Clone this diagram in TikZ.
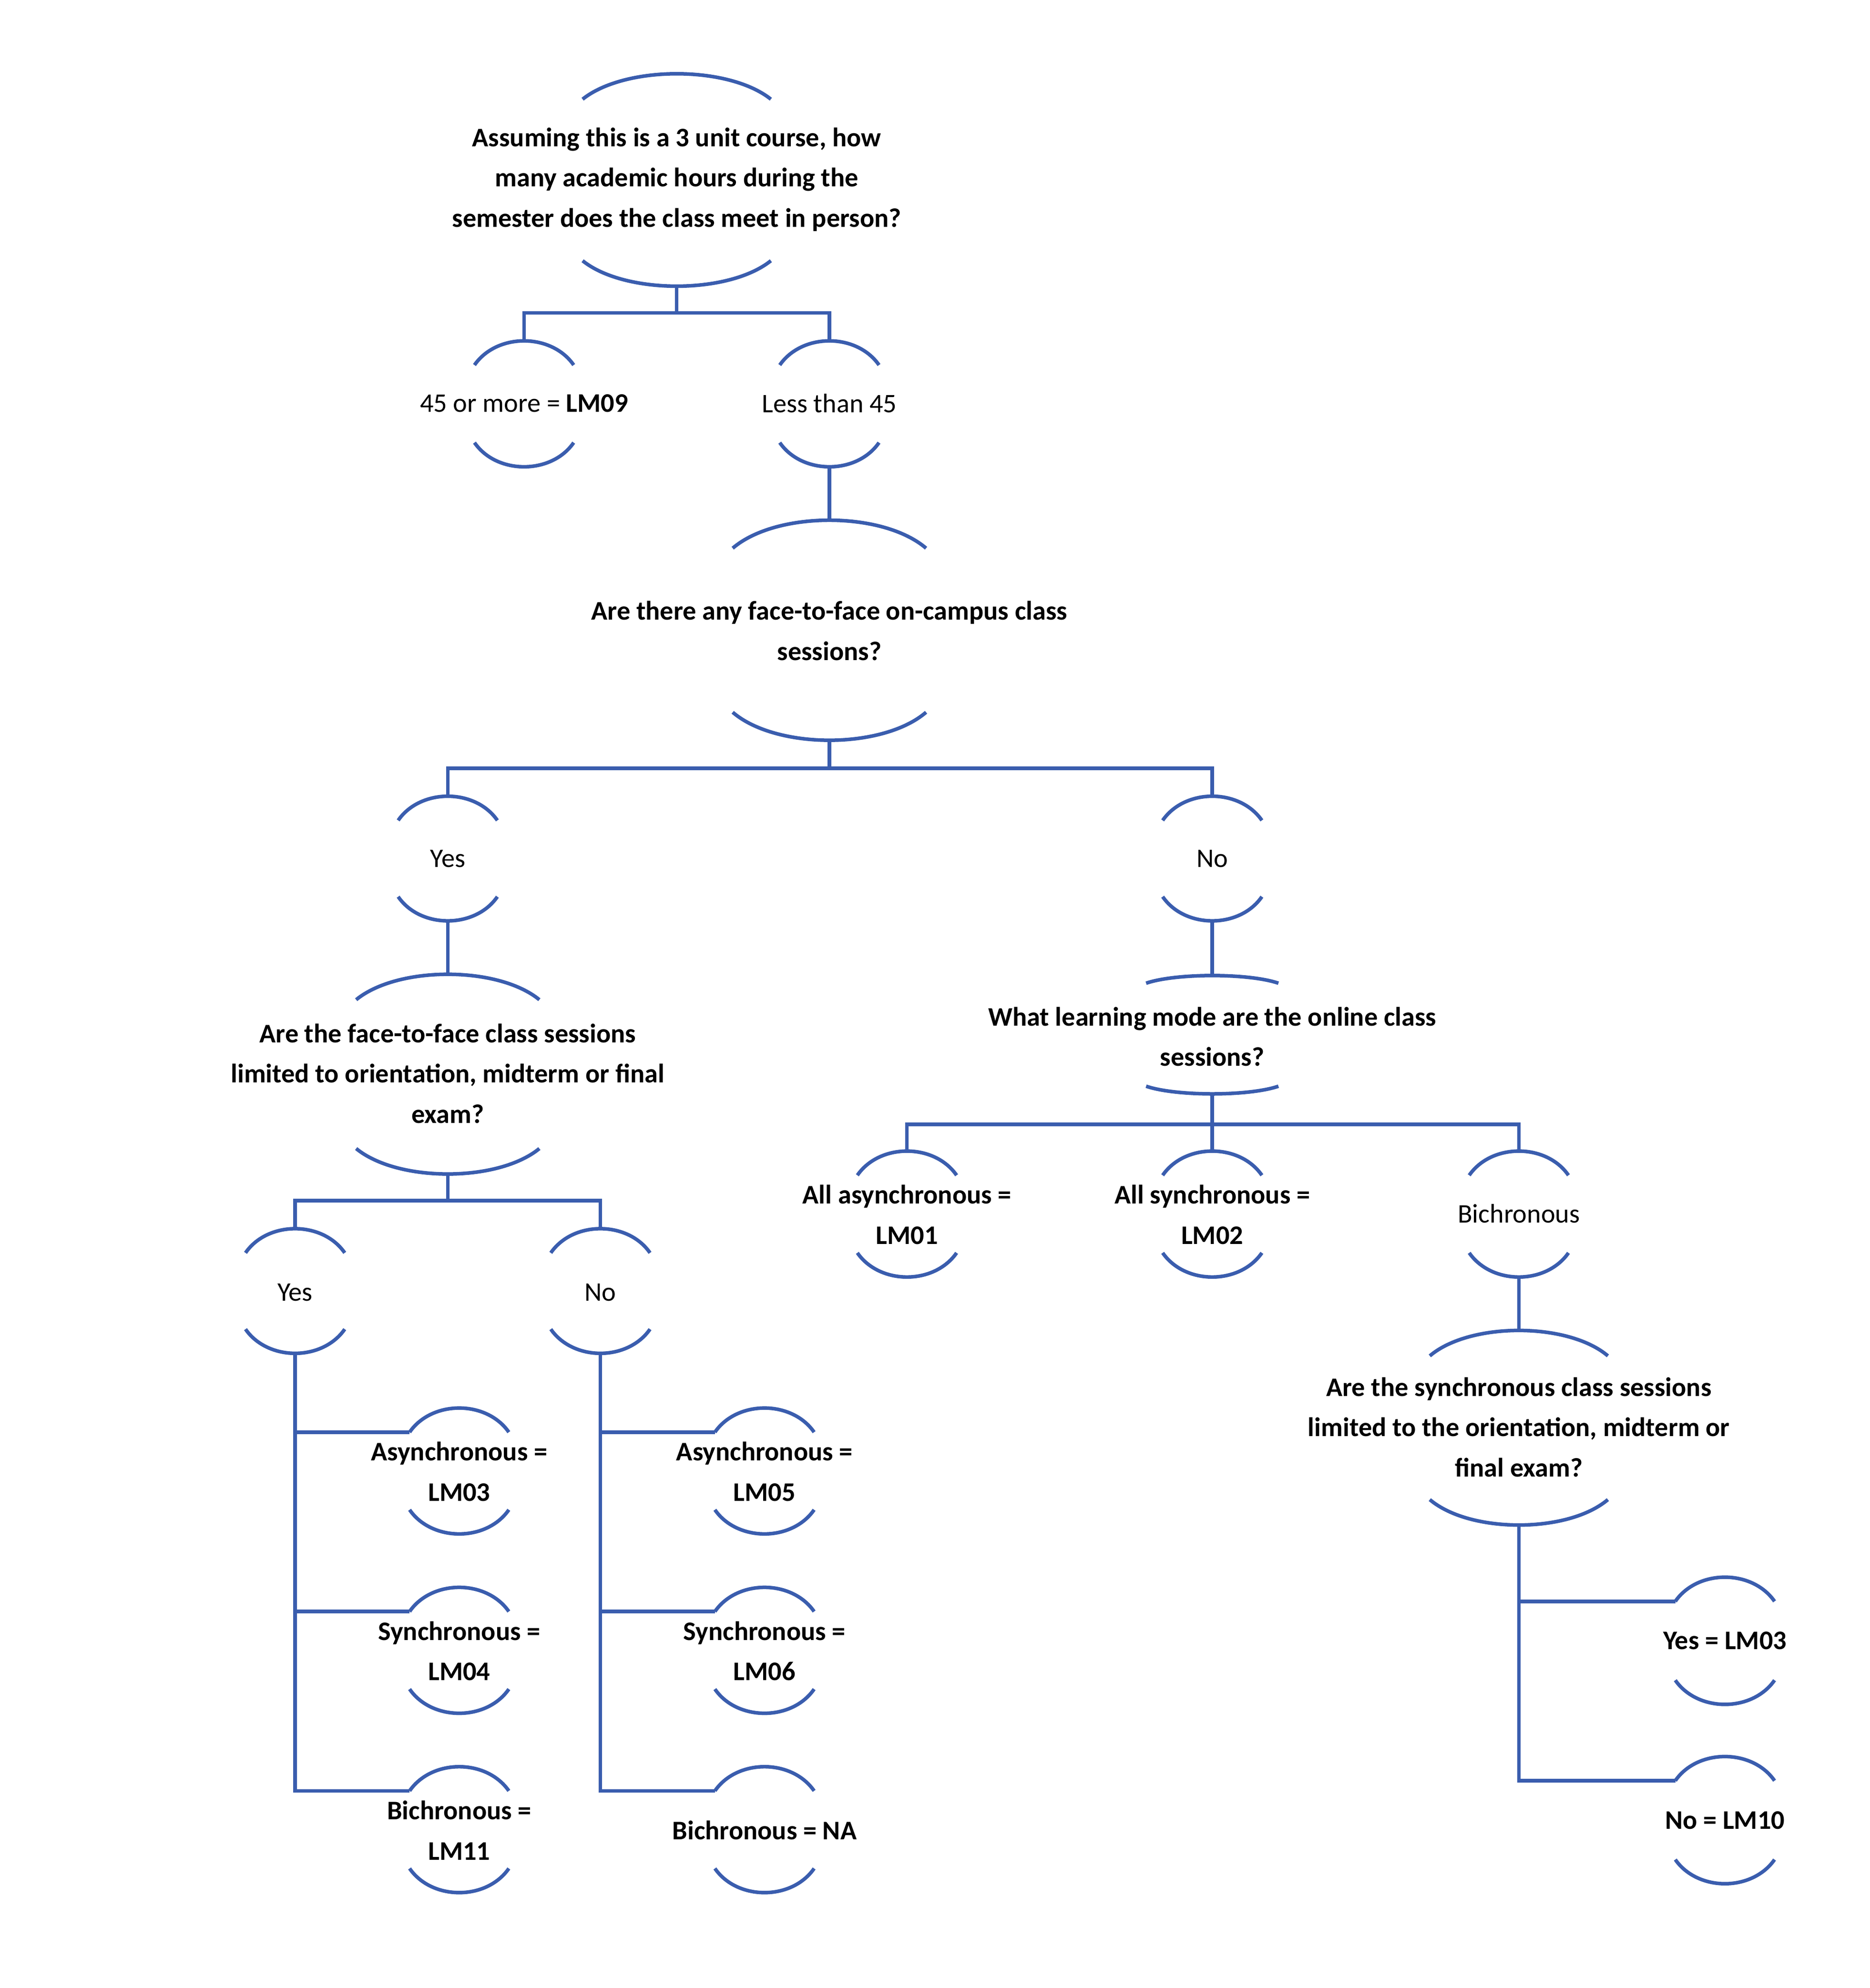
\documentclass[tikz,border=0pt]{standalone}
\usepackage{fontspec}
\setmainfont{Carlito}
\begin{document}
\begin{tikzpicture}[x=0.03cm,y=-0.03cm,
  arc/.style={draw=blu,line width=2.4pt},
  ln/.style={draw=blu,line width=2.4pt},
  txt/.style={align=center,font=\fontsize{18}{23.5}\selectfont,inner sep=0pt}]
\definecolor{blu}{HTML}{3A5DAE}
\useasboundingbox (0,0) rectangle (1470,1563);
% \dn{name}{x}{top}{bottom}{halfwidth}{depth}
\newcommand\dn[6]{%
  \coordinate (#1-t) at (#2,#3);
  \coordinate (#1-b) at (#2,#4);
  \coordinate (#1-l) at ({#2-#5},{#3+#6});
  \draw[arc] ({#2-#5},{#3+#6}) .. controls ({#2-0.55*#5},{#3-#6/3}) and ({#2+0.55*#5},{#3-#6/3}) .. ({#2+#5},{#3+#6});
  \draw[arc] ({#2-#5},{#4-#6}) .. controls ({#2-0.55*#5},{#4+#6/3}) and ({#2+0.55*#5},{#4+#6/3}) .. ({#2+#5},{#4-#6});}
\dn{q1}{532}{58}{225}{74}{20}
\dn{a45}{412}{268}{367}{39}{19}
\dn{l45}{652}{268}{367}{39}{19}
\dn{q2}{652}{409}{582}{76}{22}
\dn{y1}{352}{626}{724}{39}{19}
\dn{n1}{953}{626}{724}{39}{19}
\dn{q3}{352}{766}{923}{72}{20}
\dn{q4}{953}{767}{860}{52}{6}
\dn{y2}{232}{966}{1064}{39}{19}
\dn{n2}{472}{966}{1064}{39}{19}
\dn{m1}{713}{905}{1004}{39}{19}
\dn{m2}{953}{905}{1004}{39}{19}
\dn{bi}{1194}{905}{1004}{39}{19}
\dn{q5}{1194}{1046}{1199}{70}{20}
\dn{la}{361}{1107}{1206}{39}{19}
\dn{ls}{361}{1248}{1347}{39}{19}
\dn{lb}{361}{1389}{1488}{39}{19}
\dn{ra}{601}{1107}{1206}{39}{19}
\dn{rs}{601}{1248}{1347}{39}{19}
\dn{rb}{601}{1389}{1488}{39}{19}
\dn{fy}{1356}{1240}{1340}{39}{19}
\dn{fn}{1356}{1381}{1481}{39}{19}
% texts
\node[txt,font=\fontsize{18}{27}\bfseries] (t1) at (532,141) {Assuming this is a 3 unit course, how\\many academic hours during the\\semester does the class meet in person?};
\node[txt] (t2) at (412,317) {45 or more = \textbf{LM09}};
\node[txt] (t3) at (652,317) {Less than 45};
\node[txt,font=\fontsize{18}{27}\bfseries] (t4) at (652,496) {Are there any face-to-face on-campus class\\sessions?};
\node[txt] (t5) at (352,675) {Yes};
\node[txt] (t6) at (953,675) {No};
\node[txt,font=\fontsize{18}{27}\bfseries] (t7) at (352,844) {Are the face-to-face class sessions\\limited to orientation, midterm or final\\exam?};
\node[txt,font=\fontsize{18}{27}\bfseries] (t8) at (953,815) {What learning mode are the online class\\sessions?};
\node[txt] (t9) at (232,1016) {Yes};
\node[txt] (t10) at (472,1016) {No};
\node[txt,font=\fontsize{18}{27}\bfseries] (t11) at (713,955) {All asynchronous =\\LM01};
\node[txt,font=\fontsize{18}{27}\bfseries] (t12) at (953,955) {All synchronous =\\LM02};
\node[txt] (t13) at (1194,954) {Bichronous};
\node[txt,font=\fontsize{18}{27}\bfseries] (t14) at (1194,1122) {Are the synchronous class sessions\\limited to the orientation, midterm or\\final exam?};
\node[txt,font=\fontsize{18}{27}\bfseries] (t15) at (361,1157) {Asynchronous =\\LM03};
\node[txt,font=\fontsize{18}{27}\bfseries] (t16) at (361,1298) {Synchronous =\\LM04};
\node[txt,font=\fontsize{18}{27}\bfseries] (t17) at (361,1439) {Bichronous =\\LM11};
\node[txt,font=\fontsize{18}{27}\bfseries] (t18) at (601,1157) {Asynchronous =\\LM05};
\node[txt,font=\fontsize{18}{27}\bfseries] (t19) at (601,1298) {Synchronous =\\LM06};
\node[txt,font=\fontsize{18}{27}\bfseries] (t20) at (601,1439) {Bichronous = NA};
\node[txt,font=\fontsize{18}{27}\bfseries] (t21) at (1356,1290) {Yes = LM03};
\node[txt,font=\fontsize{18}{27}\bfseries] (t22) at (1356,1431) {No = LM10};
% connectors
\draw[ln] (q1-b) -- (532,246) coordinate (j1);
\draw[ln] (a45-t) |- (j1) -| (l45-t);
\draw[ln] (l45-b) -- (q2-t);
\draw[ln] (q2-b) -- (652,604) coordinate (j2);
\draw[ln] (y1-t) |- (j2) -| (n1-t);
\draw[ln] (y1-b) -- (q3-t);
\draw[ln] (n1-b) -- (q4-t);
\draw[ln] (q3-b) -- (352,944) coordinate (j3);
\draw[ln] (y2-t) |- (j3) -| (n2-t);
\draw[ln] (q4-b) -- (953,884) coordinate (j4);
\draw[ln] (m1-t) |- (j4) -| (bi-t);
\draw[ln] (j4) -- (m2-t);
\draw[ln] (bi-b) -- (q5-t);
\draw[ln] (y2-b) |- (lb-l);
\draw[ln] (y2-b |- la-l) -- (la-l);
\draw[ln] (y2-b |- ls-l) -- (ls-l);
\draw[ln] (n2-b) |- (rb-l);
\draw[ln] (n2-b |- ra-l) -- (ra-l);
\draw[ln] (n2-b |- rs-l) -- (rs-l);
\draw[ln] (q5-b) |- (fn-l);
\draw[ln] (q5-b |- fy-l) -- (fy-l);
\end{tikzpicture}
\end{document}
